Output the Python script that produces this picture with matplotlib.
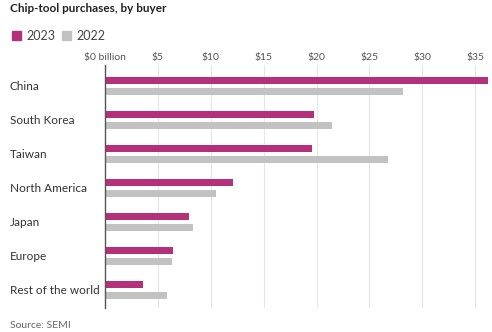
import matplotlib
matplotlib.use("Agg")
import matplotlib.pyplot as plt
from matplotlib.patches import Rectangle

categories = ["China", "South Korea", "Taiwan", "North America", "Japan", "Europe", "Rest of the world"]
v2023 = [36.2, 19.8, 19.6, 12.1, 7.9, 6.4, 3.6]
v2022 = [28.2, 21.5, 26.8, 10.5, 8.3, 6.3, 5.9]
xticks = [0, 5, 10, 15, 20, 25, 30, 35]
xticklabels = ["$0 billion", "$5", "$10", "$15", "$20", "$25", "$30", "$35"]

plt.rcParams['font.family'] = ['Lato', 'DejaVu Sans']
c23 = "#b5307a"
c22 = "#c2c2c2"
txt = "#333333"

fig = plt.figure(figsize=(4.92, 3.32), dpi=100)
ax = fig.add_axes([105/492, 1-308/332, 385/492, (308-65)/332])

y = list(range(len(categories)))
ax.barh([i - 0.16 for i in y], v2023, height=0.21, color=c23, zorder=3)
ax.barh([i + 0.16 for i in y], v2022, height=0.21, color=c22, zorder=3)

ax.set_xlim(0, 36.4)
ax.set_ylim(6.53, -0.62)
ax.set_xticks(xticks)
ax.set_xticklabels(xticklabels, fontsize=7.5, color="#555555", fontstretch='condensed')
ax.xaxis.tick_top()
ax.tick_params(axis='x', length=0, pad=2)
ax.set_yticks([])
ax.grid(axis='x', color="#e6e6e6", linewidth=0.8, zorder=0)
for s in ["top", "right", "bottom"]:
    ax.spines[s].set_visible(False)
ax.spines["left"].set_color("#555555")
ax.spines["left"].set_linewidth(1.0)
ax.spines["left"].set_zorder(4)

for i, c in enumerate(categories):
    fig.text(10/492, 1 - (86 + i*34)/332, c, fontsize=8.5, color=txt, va='center', ha='left')

fig.text(10/492, 1 - 9/332, "Chip-tool purchases, by buyer", fontsize=8.5, fontweight='bold', color="#222222", va='center', ha='left')

fig.patches.append(Rectangle((12/492, 1-40/332), 9/492, 9/332, transform=fig.transFigure, color=c23))
fig.text(26/492, 1 - 35.5/332, "2023", fontsize=9, color="#444444", va='center', ha='left')
fig.patches.append(Rectangle((62/492, 1-40/332), 9/492, 9/332, transform=fig.transFigure, color=c22))
fig.text(76/492, 1 - 35.5/332, "2022", fontsize=9, color="#444444", va='center', ha='left')

fig.text(10/492, 1 - 325/332, "Source: SEMI", fontsize=7.5, color="#666666", va='center', ha='left')

fig.savefig("out.png", dpi=100)
